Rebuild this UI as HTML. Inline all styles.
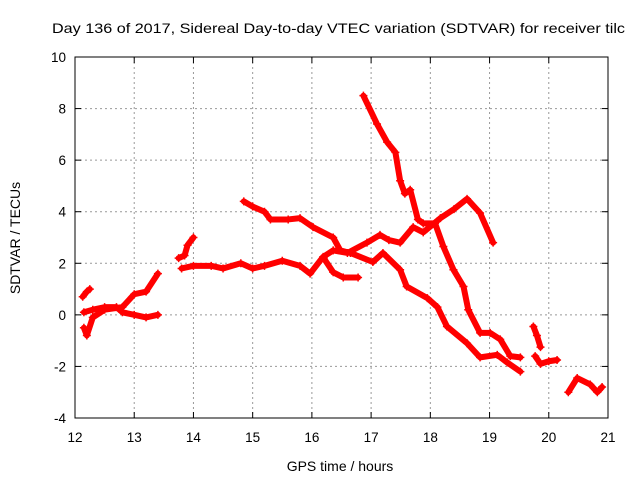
<!DOCTYPE html>
<html><head><meta charset="utf-8"><style>
body{margin:0;background:#fff}
svg{display:block;font-family:"Liberation Sans",sans-serif}
</style></head><body>
<svg id="chart" width="640" height="480">
<text x="52" y="33" font-size="14" textLength="573" lengthAdjust="spacingAndGlyphs" fill="#000">Day 136 of 2017, Sidereal Day-to-day VTEC variation (SDTVAR) for receiver tilc</text>
<g id="grid"></g><g id="ticks"></g><g id="series"></g>
<rect x="75" y="57" width="533" height="361" fill="none" stroke="#000" stroke-width="1"/>
<text x="340" y="471" font-size="14" text-anchor="middle">GPS time / hours</text>
<text transform="translate(20,238) rotate(-90)" font-size="14" text-anchor="middle">SDTVAR / TECUs</text>
</svg>
<script>
const xTicks=[12,13,14,15,16,17,18,19,20,21];
const yTicks=[-4,-2,0,2,4,6,8,10];
const trackNames=['track-a','track-b','track-c','track-d','track-e','track-f','track-g','track-h','track-i','track-j','track-k'];
const trackA=[[12.13,0.7],[12.2,0.9],[12.25,1.0]];
const trackB=[[12.15,-0.5],[12.2,-0.8],[12.3,-0.1],[12.5,0.2],[12.8,0.3],[13.0,0.8],[13.2,0.9],[13.4,1.6]];
const trackC=[[12.15,0.1],[12.3,0.2],[12.5,0.3],[12.7,0.3],[12.8,0.1],[13.0,0.0],[13.2,-0.1],[13.4,0.0]];
const trackD=[[13.75,2.2],[13.85,2.3],[13.9,2.7],[14.0,3.0]];
const trackE=[[13.8,1.8],[14.0,1.9],[14.3,1.9],[14.5,1.8],[14.8,2.0],[15.0,1.8],[15.2,1.9],[15.5,2.1],[15.8,1.9],[15.97,1.6],[16.19,2.25],[16.36,2.5],[16.6,2.4],[16.93,2.8],[17.15,3.1],[17.3,2.9],[17.49,2.8],[17.71,3.4],[17.88,3.2],[18.17,3.75],[18.4,4.1],[18.62,4.5],[18.84,3.95],[19.06,2.8]];
const trackF=[[14.85,4.4],[15.0,4.2],[15.2,4.0],[15.3,3.7],[15.6,3.7],[15.8,3.75],[16.02,3.4],[16.36,3.0],[16.48,2.5],[16.65,2.4],[17.03,2.05],[17.2,2.4],[17.49,1.75],[17.6,1.1],[17.95,0.65],[18.12,0.3],[18.28,-0.45],[18.62,-1.1],[18.84,-1.65],[19.13,-1.55],[19.3,-1.85],[19.52,-2.2]];
const trackG=[[16.2,2.2],[16.36,1.65],[16.53,1.45],[16.78,1.45]];
const trackH=[[16.87,8.5],[17.1,7.4],[17.27,6.7],[17.41,6.3],[17.49,5.2],[17.57,4.7],[17.66,4.85],[17.79,3.7],[17.88,3.55],[18.08,3.55],[18.22,2.65],[18.39,1.75],[18.56,1.1],[18.64,0.2],[18.84,-0.7],[19.01,-0.7],[19.18,-0.95],[19.35,-1.6],[19.52,-1.65]];
const trackI=[[19.74,-0.45],[19.8,-0.8],[19.86,-1.25]];
const trackJ=[[19.77,-1.6],[19.86,-1.9],[20.0,-1.8],[20.14,-1.75]];
const trackK=[[20.33,-3.0],[20.48,-2.45],[20.7,-2.7],[20.82,-3.0],[20.9,-2.8]];
const tracks=[trackA,trackB,trackC,trackD,trackE,trackF,trackG,trackH,trackI,trackJ,trackK];
const NS='http://www.w3.org/2000/svg';
const X0=75,X1=608,Y0=418,Y1=57;
function xs(h){return X0+(h-12)/(21-12)*(X1-X0);}
function ys(v){return Y0-(v+4)/(10+4)*(Y0-Y1);}
function mk(tag,attrs,parent){const e=document.createElementNS(NS,tag);for(const k in attrs)e.setAttribute(k,attrs[k]);parent.appendChild(e);return e;}
const grid=document.getElementById('grid'),ticks=document.getElementById('ticks'),ser=document.getElementById('series');
xTicks.forEach(t=>{const x=xs(t);
 if(t>12&&t<21){const g=mk('line',{x1:x,x2:x,y1:Y1,y2:Y0,stroke:'#999','stroke-dasharray':'2,3'},grid);
 
 }
 mk('line',{x1:x,x2:x,y1:Y0,y2:Y0-6,stroke:'#000'},ticks);mk('line',{x1:x,x2:x,y1:Y1,y2:Y1+6,stroke:'#000'},ticks);
 const l=mk('text',{x:x,y:442,'font-size':13.5,'text-anchor':'middle'},ticks);l.textContent=t;
 
 });
yTicks.forEach(t=>{const y=ys(t);
 if(t>-4&&t<10){const g=mk('line',{x1:X0,x2:X1,y1:y,y2:y,stroke:'#999','stroke-dasharray':'2,3'},grid);
 
 }
 mk('line',{x1:X0,x2:X0+6,y1:y,y2:y,stroke:'#000'},ticks);mk('line',{x1:X1,x2:X1-6,y1:y,y2:y,stroke:'#000'},ticks);
 const l=mk('text',{x:66,y:y+5,'font-size':13.5,'text-anchor':'end'},ticks);l.textContent=t;
 
 });
tracks.forEach((tr,i)=>{
 const g=mk('g',{},ser);
 
 
 mk('polyline',{points:tr.map(p=>xs(p[0])+','+ys(p[1])).join(' '),fill:'none',stroke:'#f00','stroke-width':6,'stroke-linejoin':'round','stroke-linecap':'round'},g);
 tr.forEach(p=>{const x=xs(p[0]),y=ys(p[1]);
  const m=mk('path',{d:`M${x-4},${y}H${x+4}M${x},${y-4}V${y+4}`,stroke:'#f00','stroke-width':1.5},g);
  
  });
});
</script>
</body></html>
